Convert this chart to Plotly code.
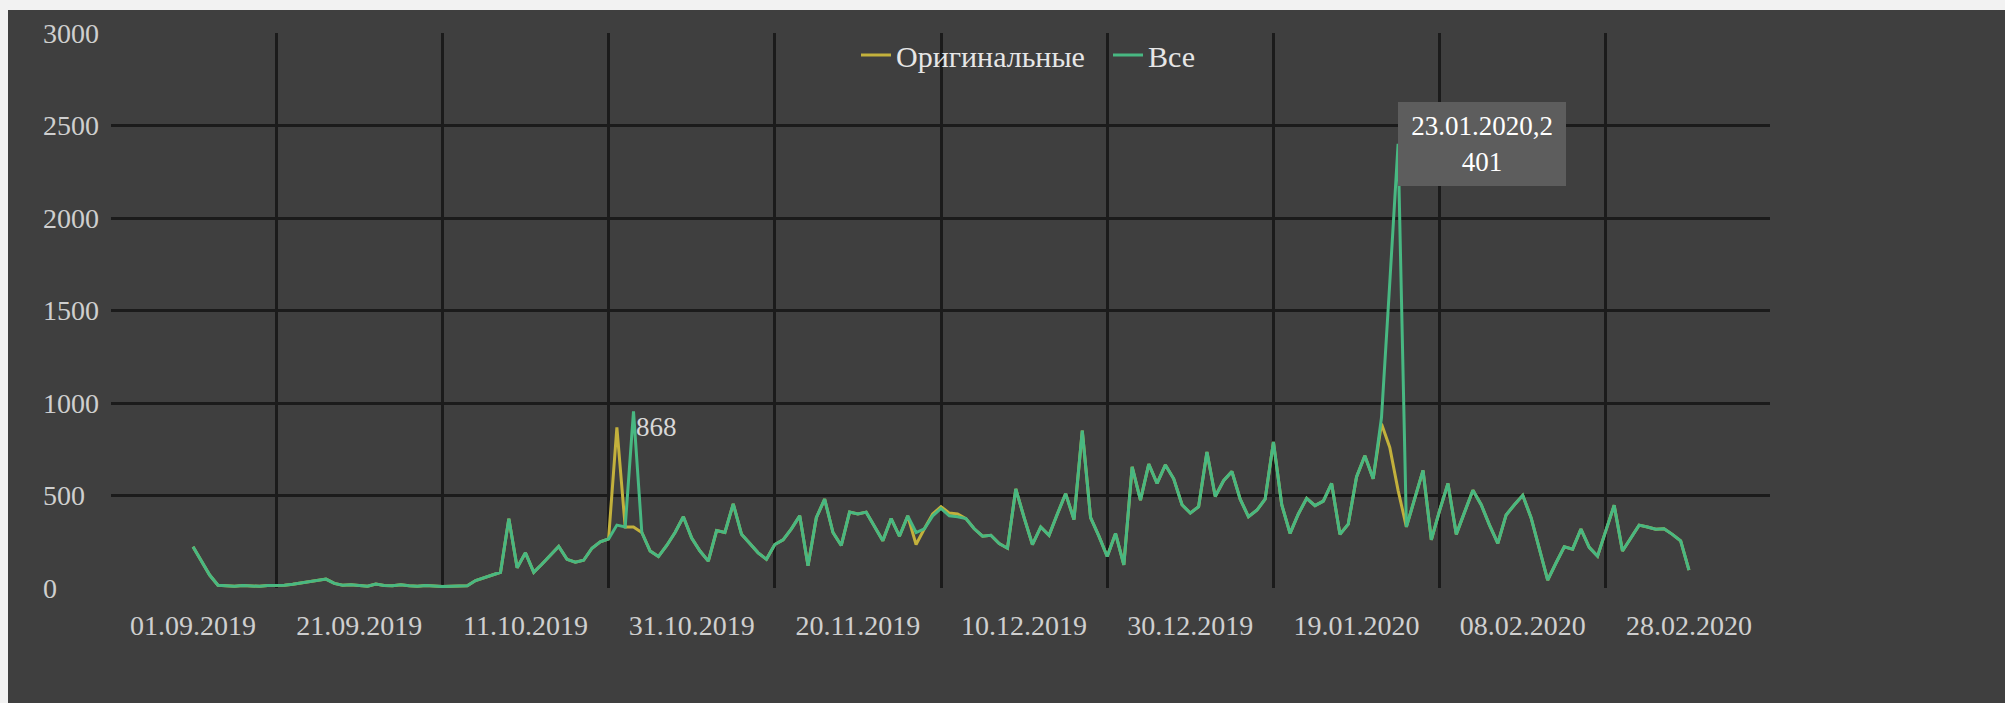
import pandas as pd
import plotly.graph_objects as go

# ---------------- data ----------------
start_date = "2019-09-01"

vse = [223, 150, 70, 15, 12, 10, 14, 11, 9, 13,
       12, 15, 20, 28, 35, 42, 48, 25, 15, 18,
       12, 10, 22, 14, 12, 18, 12, 10, 14, 10,
       8, 10, 9, 12, 40, 55, 70, 85, 375, 110,
       190, 85, 130, 175, 225, 155, 140, 150, 215, 250,
       265, 340, 330, 955, 300, 200, 170, 230, 300, 385,
       270, 200, 145, 310, 300, 455, 290, 240, 190, 155,
       235, 260, 320, 390, 120, 380, 480, 300, 230, 410,
       400, 410, 330, 255, 375, 280, 390, 300, 320, 390,
       430, 390, 385, 375, 320, 280, 285, 240, 215, 535,
       380, 235, 330, 285, 400, 510, 370, 850, 380, 280,
       170, 295, 125, 655, 475, 670, 565, 665, 590, 450,
       405, 440, 735, 495, 580, 630, 480, 385, 420, 480,
       790, 450, 295, 400, 485, 445, 470, 565, 290, 345,
       600, 715, 590, 920, 1650, 2401, 330, 480, 636, 260,
       420, 565, 290, 410, 528, 450, 340, 241, 395, 450,
       501, 380, 210, 43, 135, 223, 210, 318, 220, 172,
       310, 447, 200, 270, 340, 330, 318, 320, 290, 255,
       97]

orig = [223, 150, 70, 15, 12, 10, 14, 11, 9, 13,
        12, 15, 20, 28, 35, 42, 48, 25, 15, 18,
        12, 10, 22, 14, 12, 18, 12, 10, 14, 10,
        8, 10, 9, 12, 40, 55, 70, 85, 375, 110,
        190, 85, 130, 175, 225, 155, 140, 150, 215, 250,
        265, 868, 330, 330, 300, 200, 170, 230, 300, 385,
        270, 200, 145, 310, 300, 455, 290, 240, 190, 155,
        235, 260, 320, 390, 120, 380, 480, 300, 230, 410,
        400, 410, 330, 255, 375, 280, 390, 235, 320, 400,
        440, 405, 400, 375, 320, 280, 285, 240, 215, 535,
        380, 235, 330, 285, 400, 510, 370, 850, 380, 280,
        170, 295, 125, 655, 475, 670, 565, 665, 590, 450,
        405, 440, 735, 495, 580, 630, 480, 385, 420, 480,
        790, 450, 295, 400, 485, 445, 470, 565, 290, 345,
        600, 715, 590, 888, 760, 528, 330, 480, 636, 260,
        420, 565, 290, 410, 528, 450, 340, 241, 395, 450,
        501, 380, 210, 43, 135, 223, 210, 318, 220, 172,
        310, 447, 200, 270, 340, 330, 318, 320, 290, 255,
        97]

series_names = ["Оригинальные", "Все"]

x_tick_labels = ["01.09.2019", "21.09.2019", "11.10.2019", "31.10.2019",
                 "20.11.2019", "10.12.2019", "30.12.2019", "19.01.2020",
                 "08.02.2020", "28.02.2020"]
y_tick_values = [0, 500, 1000, 1500, 2000, 2500, 3000]

label_868 = "868"
label_peak = "23.01.2020,2<br>401"

# ---------------- geometry / style ----------------
W, H = 2005, 703
L, R, T, B = 111, 235, 33, 115
BG = "#3f3f3f"
GRID = "#1b1b1b"
TXT = "#cfcfcf"
FONT = "Liberation Serif"
C_ORIG = "#c3b13c"
C_ALL = "#48b882"

dates = pd.date_range(start_date, periods=len(vse), freq="D")
tick_dates = pd.to_datetime(x_tick_labels, format="%d.%m.%Y")
grid_dates = [d + pd.Timedelta(days=10) for d in tick_dates[:-1]]
t0 = pd.Timestamp(start_date)
x_range = [t0 - pd.Timedelta(days=9.87), t0 + pd.Timedelta(days=189.75)]

peak_idx = max(range(len(vse)), key=lambda i: vse[i])
orig_peak_idx = max(range(60), key=lambda i: orig[i])
all_oct_idx = max(range(60), key=lambda i: vse[i])

fig = go.Figure()
fig.add_trace(go.Scatter(x=dates, y=orig, mode="lines", name=series_names[0],
                         line=dict(color=C_ORIG, width=3)))
fig.add_trace(go.Scatter(x=dates, y=vse, mode="lines", name=series_names[1],
                         line=dict(color=C_ALL, width=3)))

pw = W - L - R
ph = H - T - B


def px_x(px):
    return (px - L) / pw


def px_y(py):
    return (H - B - py) / ph


annotations = []
for v in y_tick_values:
    annotations.append(dict(x=px_x(41), xref="paper", y=v, yref="y",
                            text=str(v), showarrow=False, xanchor="left",
                            yanchor="middle",
                            font=dict(family=FONT, size=28, color=TXT)))

annotations.append(dict(x=dates[all_oct_idx], y=orig[orig_peak_idx], xref="x", yref="y",
                        text=label_868, showarrow=False, xanchor="left",
                        yanchor="middle", xshift=0,
                        font=dict(family=FONT, size=27, color="#d8d8d8")))
annotations.append(dict(x=dates[peak_idx], y=vse[peak_idx], xref="x", yref="y",
                        text=label_peak, showarrow=False, xanchor="left",
                        yanchor="middle", align="center", valign="middle",
                        width=164, height=80, borderpad=2, borderwidth=0,
                        bgcolor="#5d5d5d",
                        font=dict(family=FONT, size=27, color="#ffffff")))

shapes = [
    dict(type="rect", xref="paper", yref="paper", layer="above",
         x0=px_x(0), x1=px_x(W), y0=px_y(10), y1=px_y(0),
         fillcolor="#f2f2f2", line=dict(width=0)),
    dict(type="rect", xref="paper", yref="paper", layer="above",
         x0=px_x(0), x1=px_x(8), y0=px_y(H), y1=px_y(0),
         fillcolor="#f2f2f2", line=dict(width=0)),
]

fig.update_layout(
    width=W, height=H, autosize=False,
    margin=dict(l=L, r=R, t=T, b=B, pad=0),
    paper_bgcolor=BG, plot_bgcolor=BG,
    font=dict(family=FONT, color=TXT, size=28),
    showlegend=True,
    legend=dict(orientation="h", x=px_x(856), xanchor="left",
                y=px_y(55), yanchor="middle",
                entrywidth=207, entrywidthmode="pixels",
                bgcolor="rgba(0,0,0,0)",
                font=dict(family=FONT, size=30, color="#e6e6e6")),
    annotations=annotations,
    shapes=shapes,
    xaxis=dict(type="date", range=x_range, showgrid=False, zeroline=False,
               showline=False, tickmode="array", tickvals=list(tick_dates),
               ticktext=x_tick_labels, ticks="outside", ticklen=12,
               tickcolor=BG, tickfont=dict(family=FONT, size=28, color=TXT),
               minor=dict(tickmode="array", tickvals=grid_dates, showgrid=True,
                          gridcolor=GRID, gridwidth=2.5, ticks="")),
    yaxis=dict(range=[0, 3000], showgrid=False, zeroline=False,
               showline=False, showticklabels=False,
               minor=dict(tickmode="array", tickvals=y_tick_values[1:],
                          showgrid=True, gridcolor=GRID, gridwidth=2.5, ticks="")),
)

fig.write_html("out.html",
               config={"displayModeBar": False},
               post_script="document.body.style.margin='0';document.body.style.overflow='hidden';")
